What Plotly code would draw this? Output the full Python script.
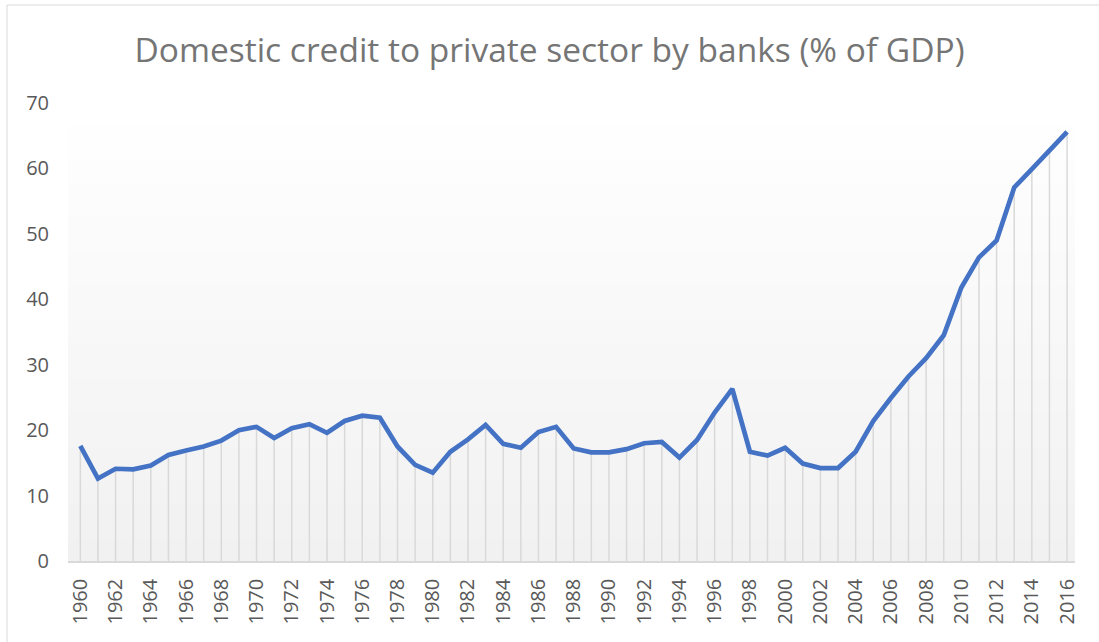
import plotly.graph_objects as go

years = list(range(1960, 2017))
values = [17.6, 12.6, 14.1, 14.0, 14.6, 16.2, 16.9, 17.5, 18.4, 20.0,
          20.5, 18.8, 20.3, 20.9, 19.6, 21.4, 22.2, 21.9, 17.5, 14.7,
          13.5, 16.7, 18.6, 20.8, 17.9, 17.3, 19.7, 20.5, 17.2, 16.6,
          16.6, 17.1, 18.0, 18.2, 15.8, 18.5, 22.7, 26.3, 16.7, 16.1,
          17.3, 14.9, 14.2, 14.2, 16.7, 21.4, 24.9, 28.2, 31.0, 34.5,
          41.8, 46.4, 49.0, 57.1, 59.9, 62.8, 65.6]
tick_years = list(range(1960, 2017, 2))
title_text = "Domestic credit to private sector by banks (% of GDP)"

W, H = 1099, 642
L, R, T, B = 68, 24, 103, 81

fig = go.Figure()

# drop lines
fig.add_trace(go.Scatter(
    x=years, y=values, mode="markers",
    marker=dict(size=0.1, opacity=0),
    error_y=dict(type="data", symmetric=False, array=[0] * len(values),
                 arrayminus=values, width=0, thickness=1.5, color="#d9d9d9"),
    hoverinfo="skip", showlegend=False))

fig.add_trace(go.Scatter(
    x=years, y=values, mode="lines",
    line=dict(color="#4472C4", width=4.7),
    showlegend=False))

# gradient background of plot area (white at top to light gray at bottom)
shapes = []
n = 40
for i in range(n):
    f = i / (n - 1)  # 0 at bottom, 1 at top
    g = int(round(241 + (255 - 241) * f))
    shapes.append(dict(type="rect", xref="x domain", yref="y domain",
                       x0=0, x1=1, y0=i / n, y1=(i + 1) / n + 0.002,
                       fillcolor=f"rgb({g},{g},{g})", line=dict(width=0),
                       layer="below"))
pw = W - L - R
ph = H - T - B
# outer chart border
shapes.append(dict(type="rect", xref="paper", yref="paper",
                   x0=(7 - L) / pw, x1=(W + 10 - L) / pw,
                   y0=-(B + 20) / ph, y1=(H - 5 - B) / ph,
                   line=dict(color="#d9d9d9", width=1), fillcolor="rgba(0,0,0,0)",
                   layer="below"))

fig.update_layout(
    width=W, height=H,
    margin=dict(l=L, r=R, t=T, b=B),
    paper_bgcolor="white",
    plot_bgcolor="rgba(0,0,0,0)",
    title=dict(text=title_text, x=0.5, xanchor="center", y=1 - 50 / H,
               yanchor="middle",
               font=dict(family="Open Sans", size=33.5, color="#757575")),
    shapes=shapes,
    xaxis=dict(range=[1959.3, 2016.45], tickmode="array", tickvals=tick_years,
               ticktext=[str(y) for y in tick_years], tickangle=-90,
               showgrid=False, zeroline=False, showline=True,
               linecolor="#d9d9d9", linewidth=1.5, ticks="",
               ticklabelstandoff=8,
               tickfont=dict(family="Open Sans", size=20, color="#595959")),
    yaxis=dict(range=[0, 70], dtick=10, showgrid=False, zeroline=False,
               showline=False, ticks="", ticklabelstandoff=18,
               tickfont=dict(family="Open Sans", size=20, color="#595959")),
)

fig.write_html("out.html", config={"displayModeBar": False},
               post_script="document.body.style.margin='0px';")
